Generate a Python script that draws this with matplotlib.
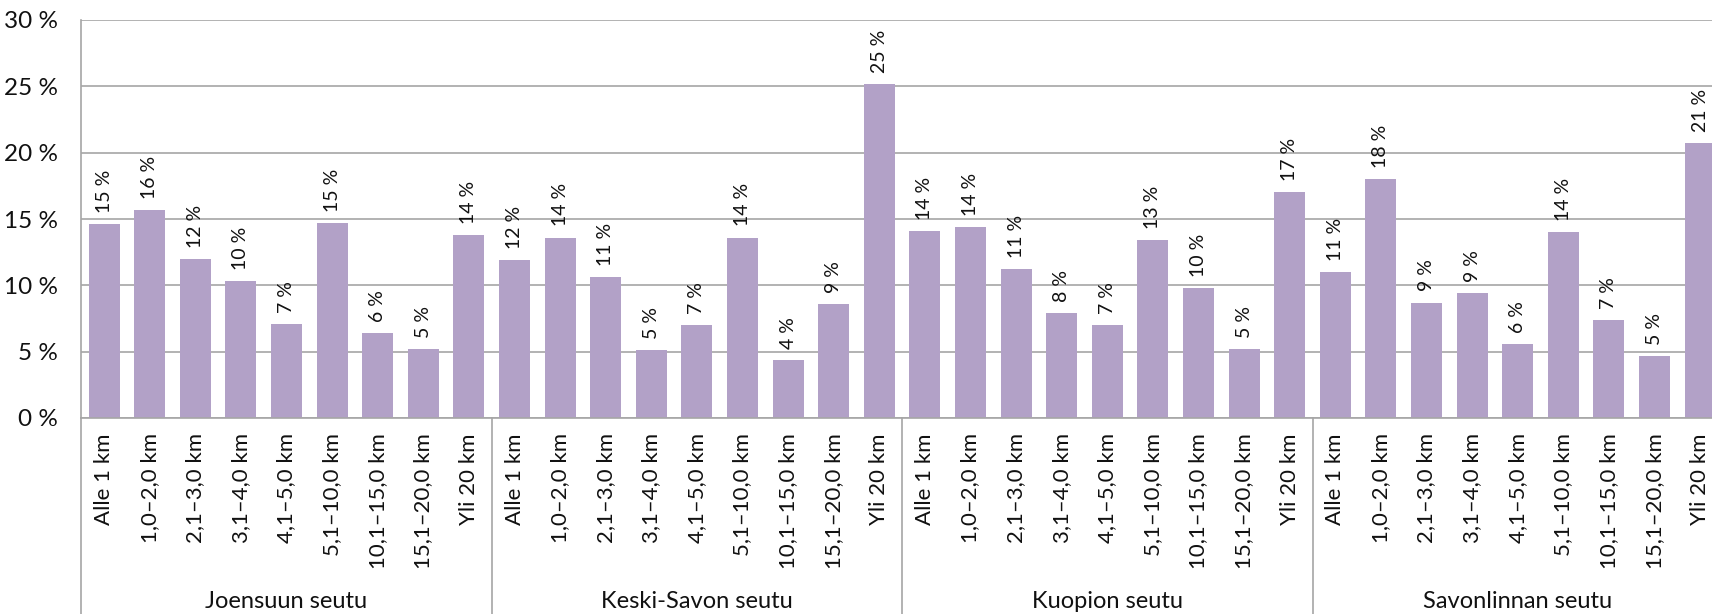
import matplotlib
matplotlib.use("Agg")
import matplotlib.pyplot as plt
import numpy as np

plt.rcParams['font.family'] = ['Lato', 'DejaVu Sans']

regions = ["Joensuun seutu", "Keski-Savon seutu", "Kuopion seutu", "Savonlinnan seutu"]
distances = ["Alle 1 km", "1,0–2,0 km", "2,1–3,0 km", "3,1–4,0 km", "4,1–5,0 km",
             "5,1–10,0 km", "10,1–15,0 km", "15,1–20,0 km", "Yli 20 km"]

joensuu = [14.6, 15.7, 12.0, 10.3, 7.1, 14.7, 6.4, 5.2, 13.8]
keski_savo = [11.9, 13.6, 10.6, 5.1, 7.0, 13.6, 4.4, 8.6, 25.2]
kuopio = [14.1, 14.4, 11.2, 7.9, 7.0, 13.4, 9.8, 5.2, 17.0]
savonlinna = [11.0, 18.0, 8.7, 9.4, 5.6, 14.0, 7.4, 4.7, 20.7]

yticks = [0, 5, 10, 15, 20, 25, 30]

values = joensuu + keski_savo + kuopio + savonlinna
labels = distances * len(regions)

W, H = 1712, 614
fig = plt.figure(figsize=(W / 100, H / 100), dpi=100)
left, right, top, bottom = 81.3, 1723, 20, 418
ax = fig.add_axes([left / W, (H - bottom) / H, (right - left) / W, (bottom - top) / H])

x = np.arange(len(values))
bars = ax.bar(x, values, width=0.68, color='#B2A1C7', zorder=2)
ax.bar_label(bars, labels=[f"{int(round(v)):d} %" for v in values], rotation=90,
             padding=8, fontsize=14, color='#111111')

ax.set_xlim(-0.5, len(values) - 0.5)
ax.set_ylim(0, 30)
ax.set_yticks(yticks)
ax.set_yticklabels([f"{t} %" for t in yticks], fontsize=17.5, color='#111111')
ax.set_xticks(x)
ax.set_xticklabels(labels, rotation=90, fontsize=16, color='#111111', va='top')
ax.tick_params(axis='both', length=0)
ax.tick_params(axis='x', pad=11)
ax.tick_params(axis='y', pad=17)

ax.yaxis.grid(True, color='#a6a6a6', lw=1.2, zorder=0)
ax.set_axisbelow(True)
for s in ['top', 'right']:
    ax.spines[s].set_visible(False)
ax.spines['left'].set_color('#a6a6a6')
ax.spines['bottom'].set_color('#a6a6a6')
ax.spines['left'].set_linewidth(1.2)
ax.spines['bottom'].set_linewidth(1.2)

trans = ax.get_xaxis_transform()
n = len(distances)
for i in range(len(regions)):
    ax.plot([i * n - 0.5, i * n - 0.5], [0, -0.6], transform=trans, color='#a6a6a6',
            lw=1.2, clip_on=False)
    ax.text(i * n + (n - 1) / 2, -0.462, regions[i], transform=trans, ha='center',
            va='center', fontsize=17, color='#111111')

fig.savefig("out.png", dpi=100)
